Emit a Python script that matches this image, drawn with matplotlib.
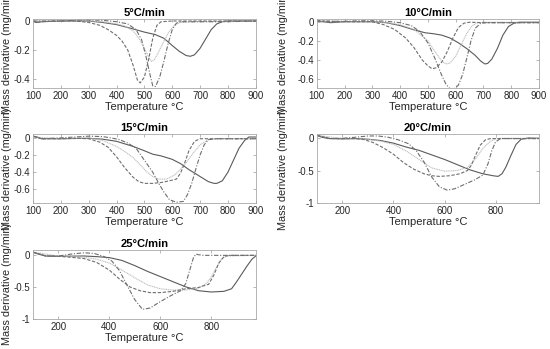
import numpy as np
from matplotlib import pyplot as plt

plt.rcParams['font.family'] = ['Liberation Sans', 'DejaVu Sans']
plt.rcParams['axes.unicode_minus'] = False

titles = ["5°C/min", "10°C/min", "15°C/min", "20°C/min", "25°C/min"]

# 5 C/min
t_5_solid = [100, 110, 130, 200, 300, 350, 400, 450, 500, 540, 570, 600, 625, 650, 665, 680, 700, 720, 740, 760, 780, 800, 900]
v_5_solid = [0.0, -0.01, -0.005, 0, 0, -0.01, -0.025, -0.05, -0.077, -0.095, -0.12, -0.17, -0.21, -0.24, -0.245, -0.235,
             -0.19, -0.125, -0.06, -0.02, -0.005, 0, 0]
t_5_dash = [100, 110, 130, 200, 250, 300, 340, 370, 400, 420, 440, 460, 475, 485, 500, 515, 530, 545, 560, 600, 900]
v_5_dash = [0.005, -0.01, -0.005, 0, 0, -0.01, -0.03, -0.06, -0.10, -0.14, -0.2, -0.31, -0.41, -0.43, -0.39, -0.27,
            -0.12, -0.03, -0.005, 0, 0]
t_5_dashdot = [100, 200, 250, 300, 350, 400, 440, 470, 490, 505, 520, 530, 540, 555, 570, 585, 600, 615, 630, 700, 800, 900]
v_5_dashdot = [0, 0, 0.005, 0.008, 0.005, -0.005, -0.02, -0.06, -0.13, -0.24, -0.37, -0.45, -0.455, -0.39, -0.28, -0.16,
               -0.06, -0.015, -0.005, -0.005, -0.005, 0]
t_5_dot = [100, 200, 300, 350, 400, 430, 460, 480, 500, 515, 525, 535, 550, 570, 590, 610, 630, 700, 900]
v_5_dot = [0, 0, 0, -0.005, -0.02, -0.035, -0.07, -0.12, -0.19, -0.25, -0.28, -0.27, -0.22, -0.14, -0.07, -0.025, -0.01,
           -0.005, 0]

# 10 C/min
t_10_solid = [100, 120, 150, 200, 300, 350, 400, 450, 490, 520, 550, 580, 610, 640, 670, 690, 705, 715, 730, 750, 770, 790,
              810, 830, 900]
v_10_solid = [0.01, 0, -0.01, 0, 0, -0.01, -0.04, -0.085, -0.115, -0.125, -0.14, -0.17, -0.22, -0.28, -0.35, -0.41, -0.44,
              -0.435, -0.39, -0.28, -0.14, -0.05, -0.015, -0.005, -0.005]
t_10_dash = [100, 200, 300, 340, 380, 420, 450, 480, 500, 515, 530, 550, 570, 590, 610, 630, 650, 700, 900]
v_10_dash = [0.01, 0, 0, -0.03, -0.08, -0.17, -0.27, -0.40, -0.46, -0.49, -0.48, -0.42, -0.31, -0.17, -0.06, -0.015,
             -0.005, -0.01, -0.01]
t_10_dashdot = [100, 200, 250, 300, 350, 400, 440, 470, 500, 525, 550, 565, 580, 595, 610, 625, 640, 655, 670, 690, 710, 900]
v_10_dashdot = [0.005, 0.005, 0.01, 0.01, 0.005, -0.01, -0.04, -0.10, -0.22, -0.38, -0.56, -0.65, -0.70, -0.70, -0.66,
                -0.55, -0.38, -0.2, -0.07, -0.015, -0.01, -0.01]
t_10_dot = [100, 200, 300, 350, 400, 450, 500, 530, 550, 565, 580, 600, 620, 640, 660, 680, 700, 900]
v_10_dot = [0, 0, 0, -0.01, -0.03, -0.08, -0.2, -0.33, -0.41, -0.44, -0.43, -0.36, -0.24, -0.12, -0.04, -0.01, -0.005,
            -0.005]

# 15 C/min
t_15_solid = [100, 115, 130, 200, 300, 350, 400, 430, 460, 500, 530, 560, 600, 630, 660, 700, 730, 750, 760, 780, 800, 820,
              840, 860, 875, 900]
v_15_solid = [0.02, 0.01, -0.01, -0.01, -0.005, -0.015, -0.04, -0.07, -0.10, -0.15, -0.19, -0.21, -0.25, -0.30, -0.37,
              -0.45, -0.51, -0.53, -0.53, -0.50, -0.40, -0.26, -0.12, -0.03, 0.01, 0.01]
t_15_dash = [100, 130, 200, 260, 300, 340, 370, 400, 430, 460, 480, 500, 530, 560, 590, 615, 630, 645, 660, 680, 700, 900]
v_15_dash = [0.02, -0.01, -0.01, -0.005, -0.01, -0.05, -0.11, -0.22, -0.35, -0.46, -0.51, -0.53, -0.53, -0.52, -0.50,
             -0.48, -0.41, -0.29, -0.15, -0.04, -0.01, -0.01]
t_15_dashdot = [100, 130, 200, 250, 300, 350, 380, 410, 440, 470, 500, 530, 550, 570, 590, 615, 640, 655, 670, 685, 700,
                715, 730, 760, 900]
v_15_dashdot = [0.02, -0.01, 0, 0.01, 0.02, 0.015, 0.0, -0.02, -0.06, -0.12, -0.26, -0.40, -0.52, -0.63, -0.72, -0.75,
                -0.74, -0.66, -0.53, -0.36, -0.20, -0.08, -0.02, -0.01, -0.01]
t_15_dot = [100, 200, 300, 350, 400, 430, 460, 490, 510, 530, 550, 580, 610, 640, 670, 700, 730, 760, 900]
v_15_dot = [0.01, -0.01, 0, -0.03, -0.10, -0.16, -0.23, -0.33, -0.40, -0.45, -0.48, -0.48, -0.43, -0.33, -0.20, -0.08,
            -0.02, -0.01, -0.01]

# 20 C/min
t_20_solid = [100, 120, 150, 200, 250, 300, 350, 400, 450, 500, 550, 600, 650, 700, 750, 790, 810, 825, 840, 860, 880, 900,
              930, 970]
v_20_solid = [0.04, 0.01, -0.01, -0.015, -0.01, -0.02, -0.04, -0.08, -0.14, -0.19, -0.26, -0.33, -0.41, -0.49, -0.55,
              -0.58, -0.59, -0.55, -0.45, -0.27, -0.10, -0.02, 0, -0.005]
t_20_dash = [100, 150, 200, 250, 280, 320, 360, 400, 440, 480, 520, 550, 580, 620, 660, 690, 705, 720, 740, 760, 780, 970]
v_20_dash = [0.04, -0.01, -0.01, -0.01, -0.02, -0.07, -0.15, -0.25, -0.38, -0.48, -0.55, -0.58, -0.59, -0.58, -0.55,
             -0.50, -0.42, -0.28, -0.11, -0.03, -0.01, -0.01]
t_20_dashdot = [100, 150, 200, 250, 300, 340, 380, 420, 460, 490, 520, 550, 580, 610, 640, 680, 720, 750, 770, 785, 800,
                820, 970]
v_20_dashdot = [0.04, -0.01, -0.005, 0.01, 0.03, 0.03, 0.01, -0.03, -0.09, -0.20, -0.37, -0.60, -0.75, -0.80, -0.78,
                -0.71, -0.64, -0.57, -0.40, -0.20, -0.06, -0.01, -0.01]
t_20_dot = [100, 200, 300, 350, 400, 450, 500, 550, 600, 650, 690, 720, 750, 780, 800, 820, 970]
v_20_dot = [0.04, -0.01, -0.02, -0.05, -0.10, -0.20, -0.33, -0.46, -0.51, -0.50, -0.45, -0.33, -0.16, -0.05, -0.015,
            -0.005, -0.005]

# 25 C/min
t_25_solid = [100, 120, 150, 200, 300, 350, 400, 450, 500, 550, 600, 650, 700, 750, 800, 850, 880, 900, 920, 940, 960, 975]
v_25_solid = [0.04, 0.01, -0.02, -0.025, -0.02, -0.03, -0.045, -0.09, -0.17, -0.26, -0.34, -0.42, -0.50, -0.56, -0.58,
              -0.57, -0.53, -0.42, -0.30, -0.18, -0.07, -0.02]
t_25_dash = [100, 150, 200, 250, 300, 350, 400, 440, 480, 520, 560, 600, 650, 700, 750, 790, 810, 830, 850, 870, 975]
v_25_dash = [0.04, -0.02, -0.025, -0.04, -0.06, -0.12, -0.24, -0.38, -0.50, -0.56, -0.59, -0.59, -0.57, -0.53, -0.51,
             -0.46, -0.32, -0.13, -0.03, -0.01, -0.01]
t_25_dashdot = [100, 150, 200, 250, 300, 340, 380, 410, 440, 470, 500, 530, 560, 600, 640, 680, 700, 715, 730, 740, 750,
                770, 975]
v_25_dashdot = [0.04, -0.02, -0.02, 0.01, 0.03, 0.02, -0.03, -0.10, -0.25, -0.48, -0.70, -0.85, -0.83, -0.73, -0.64,
                -0.56, -0.45, -0.25, -0.05, 0.01, 0.0, -0.01, -0.01]
t_25_dot = [100, 200, 300, 350, 400, 450, 500, 550, 600, 650, 700, 750, 780, 800, 820, 840, 860, 975]
v_25_dot = [0.04, -0.02, -0.04, -0.07, -0.13, -0.24, -0.36, -0.47, -0.53, -0.55, -0.55, -0.52, -0.45, -0.35, -0.20,
            -0.07, -0.02, -0.01]

# axis ranges and ticks per panel
x_limits = [(100, 900), (100, 900), (100, 900), (100, 970), (100, 975)]
y_limits = [(-0.465, 0.015), (-0.69, 0.03), (-0.76, 0.045), (-1.0, 0.06), (-1.0, 0.075)]
x_ticks = [range(100, 901, 100)] * 3 + [[200, 400, 600, 800]] * 2
y_ticks = [[-0.4, -0.2, 0], [-0.6, -0.4, -0.2, 0], [-0.6, -0.4, -0.2, 0], [-1, -0.5, 0], [-1, -0.5, 0]]
y_ticklabels = [["-0.4", "-0.2", "0"], ["-0.6", "-0.4", "-0.2", "0"], ["-0.6", "-0.4", "-0.2", "0"],
                ["-1", "-0.5", "0"], ["-1", "-0.5", "0"]]

series = [
    [(t_5_solid, v_5_solid), (t_5_dot, v_5_dot), (t_5_dash, v_5_dash), (t_5_dashdot, v_5_dashdot)],
    [(t_10_solid, v_10_solid), (t_10_dot, v_10_dot), (t_10_dash, v_10_dash), (t_10_dashdot, v_10_dashdot)],
    [(t_15_solid, v_15_solid), (t_15_dot, v_15_dot), (t_15_dash, v_15_dash), (t_15_dashdot, v_15_dashdot)],
    [(t_20_solid, v_20_solid), (t_20_dot, v_20_dot), (t_20_dash, v_20_dash), (t_20_dashdot, v_20_dashdot)],
    [(t_25_solid, v_25_solid), (t_25_dot, v_25_dot), (t_25_dash, v_25_dash), (t_25_dashdot, v_25_dashdot)],
]

line_styles = [
    dict(color="#5a5a5a", linestyle="-", linewidth=0.8),
    dict(color="#bdbdbd", linestyle=(0, (1, 0.6)), linewidth=0.8),
    dict(color="#6e6e6e", linestyle=(0, (3, 1.5)), linewidth=0.8),
    dict(color="#6e6e6e", linestyle=(0, (4, 1.5, 1, 1.5)), linewidth=0.8),
]

# axes boxes in figure fractions (left, bottom, width, height)
boxes = [
    (0.060, 0.748, 0.405, 0.198),
    (0.576, 0.748, 0.404, 0.198),
    (0.060, 0.418, 0.405, 0.198),
    (0.576, 0.418, 0.404, 0.198),
    (0.060, 0.086, 0.405, 0.198),
]
# y-label x position (axes fraction) for the left and right column
ylabel_x = [-0.095, -0.13, -0.095, -0.13, -0.095]

fig = plt.figure(figsize=(5.5, 3.49), dpi=100)
for idx in range(5):
    ax = fig.add_axes(boxes[idx])
    for (t, v), style in zip(series[idx], line_styles):
        ax.plot(t, v, **style)
    ax.set_xlim(*x_limits[idx])
    ax.set_ylim(*y_limits[idx])
    ax.set_xticks(list(x_ticks[idx]))
    ax.set_yticks(y_ticks[idx])
    ax.set_yticklabels(y_ticklabels[idx])
    ax.tick_params(direction="in", length=2, width=0.5, colors="#9a9a9a", labelcolor="#262626",
                   labelsize=7, pad=2, top=True, right=True)
    for spine in ax.spines.values():
        spine.set_color("#a8a8a8")
        spine.set_linewidth(0.6)
    ax.set_title(titles[idx], fontsize=8, fontweight="bold", pad=2)
    ax.set_xlabel("Temperature °C", fontsize=8, labelpad=1, color="#262626")
    ax.set_ylabel("Mass derivative (mg/min)", fontsize=7.8, color="#262626")
    ax.yaxis.set_label_coords(ylabel_x[idx], 0.5)

fig.savefig("out.png", dpi=100)
